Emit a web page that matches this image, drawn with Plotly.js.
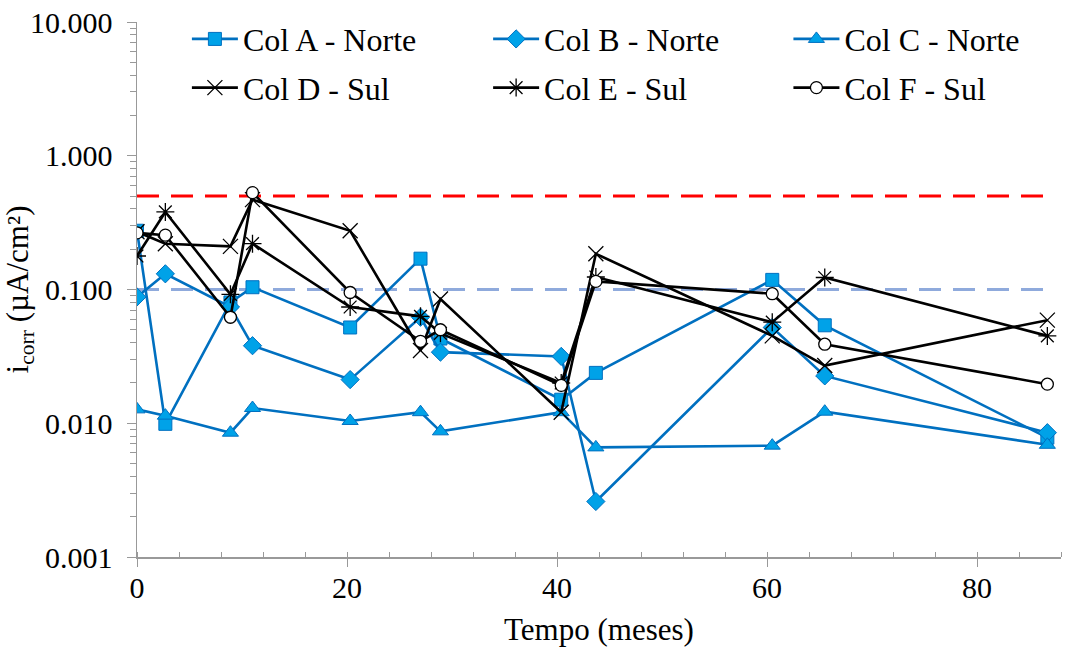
<!DOCTYPE html>
<html>
<head>
<meta charset="utf-8">
<script src="https://cdn.plot.ly/plotly-3.0.1.min.js"></script>
<style>html,body{margin:0;padding:0;background:#fff;}#chart{width:1075px;height:652px;}</style>
</head>
<body>
<div id="chart"></div>
<script>
// Tempo (meses)
const months = [0, 2.7, 8.9, 11, 20.3, 27, 28.9, 40.4, 43.7, 60.5, 65.5, 86.7];
// i_corr (µA/cm²)
const colA = [0.275, 0.0099, 0.080, 0.104, 0.052, 0.170, 0.043, 0.0150, 0.0238, 0.118, 0.054, 0.0078];
const colB = [0.088, 0.131, 0.074, 0.038, 0.0212, 0.062, 0.034, 0.0316, 0.0026, 0.052, 0.0226, 0.0085];
const colC = [0.0127, 0.0114, 0.0085, 0.0130, 0.0104, 0.0121, 0.0087, 0.0121, 0.0066, 0.0068, 0.0122, 0.0069];
const colD = [0.27, 0.22, 0.21, 0.47, 0.275, 0.035, 0.085, 0.0121, 0.185, 0.045, 0.027, 0.059];
const colE = [0.178, 0.38, 0.092, 0.22, 0.074, 0.063, 0.047, 0.0200, 0.124, 0.057, 0.123, 0.045];
const colF = [0.265, 0.255, 0.062, 0.53, 0.095, 0.041, 0.050, 0.0192, 0.115, 0.093, 0.039, 0.0196];
const seriesNames = ["Col A - Norte", "Col B - Norte", "Col C - Norte", "Col D - Sul", "Col E - Sul", "Col F - Sul"];
// threshold lines
const limitSpan = [0, 86.7];
const limitHigh = [0.5, 0.5];
const limitLow = [0.1, 0.1];
// y tick labels
const yTickVals = [0.001, 0.01, 0.1, 1, 10];
const yTickText = ["0.001", "0.010", "0.100", "1.000", "10.000"];
const xTickVals = [0, 20, 40, 60, 80];

const FONT = "'Liberation Serif', 'Times New Roman', serif";
const BLUE = "#0070C0";
const LIGHT = "#00A2E8";

function blueTrace(y, name, symbol, size, legend) {
  return {x: months, y: y, name: name, type: "scatter", mode: "lines+markers", legend: legend,
    line: {color: BLUE, width: 2.6},
    marker: {symbol: symbol, size: size, color: LIGHT, line: {color: BLUE, width: 1}}};
}
function blackTrace(y, name, symbol, size, legend, fill) {
  return {x: months, y: y, name: name, type: "scatter", mode: "lines+markers", legend: legend,
    line: {color: "#000", width: 2.6},
    marker: {symbol: symbol, size: size, color: fill || "#000", line: {color: "#000", width: 1.3}}};
}

const traces = [
  {x: limitSpan, y: limitHigh, type: "scatter", mode: "lines", showlegend: false, hoverinfo: "skip",
   line: {color: "#FF0000", width: 3, dash: "22px,12px"}},
  {x: limitSpan, y: limitLow, type: "scatter", mode: "lines", showlegend: false, hoverinfo: "skip",
   line: {color: "#8FAADC", width: 3, dash: "22px,12px"}},
  blueTrace(colA, seriesNames[0], "square", 13, "legend"),
  blueTrace(colB, seriesNames[1], "diamond", 14, "legend2"),
  blueTrace(colC, seriesNames[2], "triangle-up", 14, "legend3"),
  blackTrace(colD, seriesNames[3], "x-thin-open", 15, "legend4"),
  blackTrace(colE, seriesNames[4], "asterisk-open", 15, "legend5"),
  blackTrace(colF, seriesNames[5], "circle", 12, "legend6", "#fff")
];

function leg(x, y) {
  return {orientation: "h", xanchor: "left", yanchor: "middle", x: x, y: y,
    font: {family: FONT, size: 32, color: "#000"}, bgcolor: "rgba(0,0,0,0)", itemwidth: 46};
}
const colX = [0.054, 0.380, 0.705];
const rowY = [0.968, 0.877];

const layout = {
  width: 1075, height: 652,
  margin: {l: 137, r: 14, t: 22, b: 95, autoexpand: false},
  paper_bgcolor: "#fff", plot_bgcolor: "#fff",
  font: {family: FONT, size: 30, color: "#000"},
  showlegend: true,
  legend: leg(colX[0], rowY[0]),
  legend2: leg(colX[1], rowY[0]),
  legend3: leg(colX[2], rowY[0]),
  legend4: leg(colX[0], rowY[1]),
  legend5: leg(colX[1], rowY[1]),
  legend6: leg(colX[2], rowY[1]),
  xaxis: {
    range: [0, 88], tickvals: xTickVals, ticktext: xTickVals.map(String),
    ticks: "outside", ticklen: 8, tickcolor: "#999", tickwidth: 1, ticklabelstandoff: -5,
    showline: true, linecolor: "#999", linewidth: 1.5, showgrid: false, zeroline: false,
    minor: {dtick: 4, ticks: "inside", ticklen: 5, tickcolor: "#999", showgrid: false},
    tickfont: {family: FONT, size: 30},
    title: {text: "Tempo (meses)", font: {family: FONT, size: 31}, standoff: 16}
  },
  yaxis: {
    type: "log", range: [-3, 1], tickvals: yTickVals, ticktext: yTickText,
    ticks: "outside", ticklen: 9, tickcolor: "#999", tickwidth: 1, ticklabelstandoff: 8,
    showline: true, linecolor: "#999", linewidth: 1.5, showgrid: false, zeroline: false,
    minor: {dtick: "D1", ticks: "outside", ticklen: 6, tickcolor: "#999", showgrid: false},
    tickfont: {family: FONT, size: 30},
    title: {text: "i<sub>corr</sub> (µA/cm²)", font: {family: FONT, size: 31}, standoff: 0}
  }
};

Plotly.newPlot("chart", traces, layout, {displayModeBar: false, staticPlot: true});
</script>
</body>
</html>
